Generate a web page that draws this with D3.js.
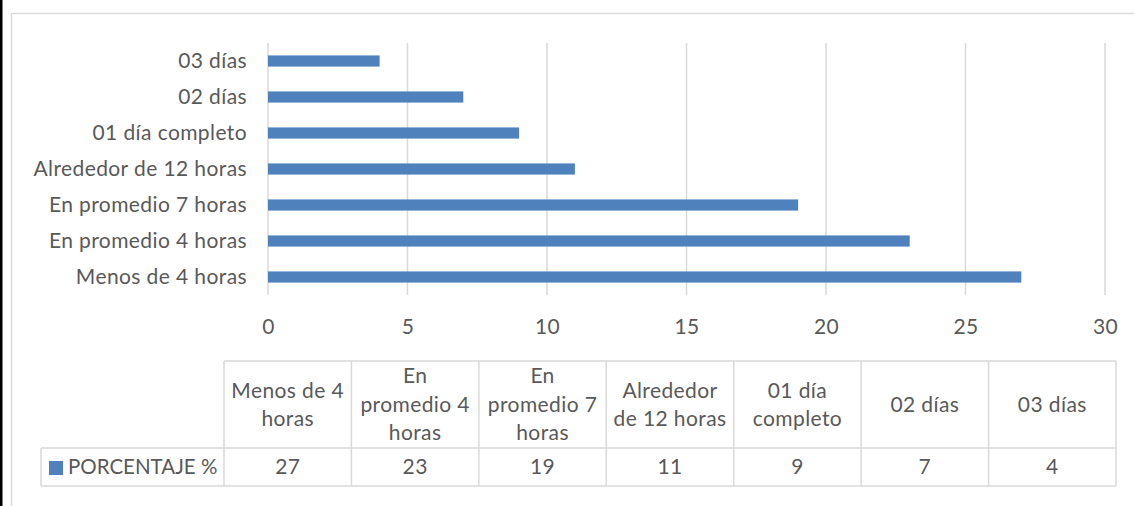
<!DOCTYPE html>
<html><head><meta charset="utf-8">
<script src="https://cdn.jsdelivr.net/npm/d3@7"></script>
<style>body{margin:0;background:#fff;} svg{display:block;font-family:Lato, "Noto Sans", sans-serif;} text{font-size:21px;letter-spacing:0.4px;}</style>
</head><body>
<svg id="c" width="1134" height="506"></svg>
<script>
const categories = ["Menos de 4 horas","En promedio 4 horas","En promedio 7 horas","Alrededor de 12 horas","01 día completo","02 días","03 días"];
const values = [27,23,19,11,9,7,4];
const headerLines = [["Menos de 4","horas"],["En","promedio 4","horas"],["En","promedio 7","horas"],["Alrededor","de 12 horas"],["01 día","completo"],["02 días"],["03 días"]];
const xTicks = [0,5,10,15,20,25,30];
const seriesName = "PORCENTAJE %";

(function(){
const svg = d3.select("#c");
const txt = "#595959", grid = "#d9d9d9", blue = "#4f81bd";
const FS = "21px", FF = "Lato, 'Noto Sans', sans-serif";

// frame
svg.append("rect").attr("x",11.5).attr("y",13.5).attr("width",1130).attr("height",500).attr("fill","none").attr("stroke","#d9d9d9").attr("stroke-width",1.5);
svg.append("rect").attr("x",0).attr("y",0).attr("width",2.5).attr("height",506).attr("fill","#000");

const x = d3.scaleLinear().domain([0,30]).range([268,1105]);
const y = d3.scaleBand().domain(categories.slice().reverse()).range([43,295]).paddingInner(0.69).paddingOuter(0.345);

// gridlines
svg.append("g").selectAll("line").data(xTicks).join("line")
  .attr("x1",d=>x(d)).attr("x2",d=>x(d)).attr("y1",43).attr("y2",295)
  .attr("stroke",grid).attr("stroke-width",1.5);

// bars
svg.append("g").selectAll("rect").data(categories).join("rect")
  .attr("x",x(0)).attr("y",d=>y(d)).attr("height",y.bandwidth())
  .attr("width",(d,i)=>x(values[i])-x(0)).attr("fill",blue);

// x axis labels
const xa = svg.append("g").attr("transform","translate(0,295)").call(d3.axisBottom(x).tickValues(xTicks).tickSize(0).tickPadding(0));
xa.select(".domain").remove();
xa.selectAll("text").attr("y",39).attr("dy",0).attr("fill",txt).style("font-size",FS).style("font-family",FF);

// y axis labels
const ya = svg.append("g").attr("transform","translate(268,0)").call(d3.axisLeft(y).tickSize(0).tickPadding(21));
ya.select(".domain").remove();
ya.selectAll("text").attr("fill",txt).attr("dy","0.35em").style("font-size",FS).style("font-family",FF);

// data table
const colX = d3.scaleBand().domain(categories).range([224,1116]);
const t = svg.append("g");
const rTop = 361, rMid = 448, rBot = 486;
t.append("g").selectAll("line").data(categories.concat([null])).join("line")
  .attr("x1",(d,i)=>224+i*colX.bandwidth()).attr("x2",(d,i)=>224+i*colX.bandwidth())
  .attr("y1",rTop).attr("y2",rBot).attr("stroke",grid).attr("stroke-width",1.5);
t.append("line").attr("x1",224).attr("x2",1116).attr("y1",rTop).attr("y2",rTop).attr("stroke",grid).attr("stroke-width",1.5);
t.append("line").attr("x1",41).attr("x2",1116).attr("y1",rMid).attr("y2",rMid).attr("stroke",grid).attr("stroke-width",1.5);
t.append("line").attr("x1",41).attr("x2",1116).attr("y1",rBot).attr("y2",rBot).attr("stroke",grid).attr("stroke-width",1.5);
t.append("line").attr("x1",41).attr("x2",41).attr("y1",rMid).attr("y2",rBot).attr("stroke",grid).attr("stroke-width",1.5);

// headers
const lh = 28.5;
categories.forEach((c,i)=>{
  const lines = headerLines[i];
  const cx = colX(c)+colX.bandwidth()/2;
  const cy = (rTop+rMid)/2;
  lines.forEach((l,j)=>{
    t.append("text").attr("x",cx).attr("y",cy+(j-(lines.length-1)/2)*lh).attr("dy","0.35em")
      .attr("text-anchor","middle").attr("fill",txt).text(l);
  });
  t.append("text").attr("x",cx).attr("y",(rMid+rBot)/2).attr("dy","0.35em")
    .attr("text-anchor","middle").attr("fill",txt).text(values[i]);
});
// legend
t.append("rect").attr("x",49).attr("y",461).attr("width",14).attr("height",14).attr("fill",blue);
t.append("text").attr("x",68).attr("y",(rMid+rBot)/2).attr("dy","0.35em").attr("fill",txt)
  .style("font-size","20.5px").style("letter-spacing","0px").text(seriesName);
})();
</script>
</body></html>
